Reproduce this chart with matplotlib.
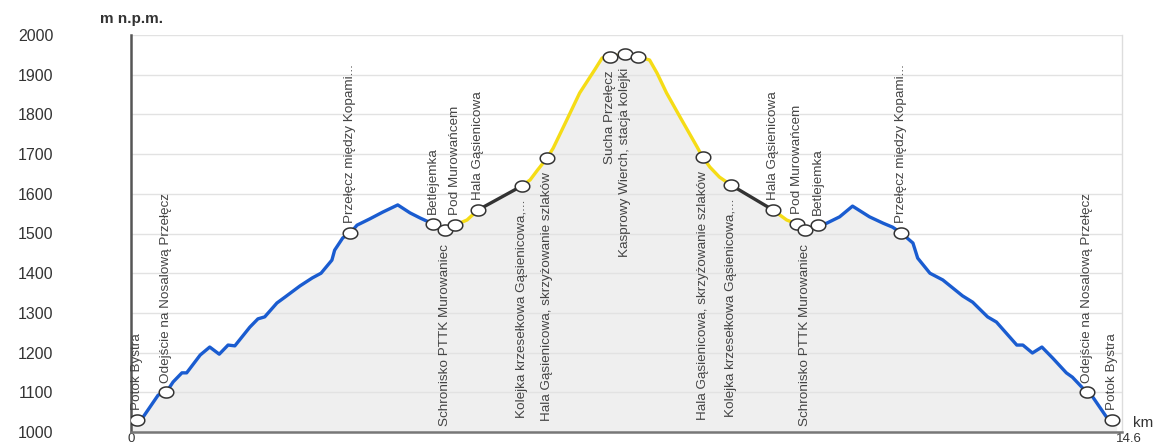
import numpy as np
import matplotlib
matplotlib.use("Agg")
import matplotlib.pyplot as plt
import matplotlib.transforms as mtransforms
from matplotlib.path import Path

# elevation profile, km along trail / m a.s.l.
profile_km = [0.0, 0.09, 0.18, 0.40, 0.52, 0.62, 0.75, 0.82, 1.02, 1.16,
              1.30, 1.43, 1.53, 1.75, 1.87, 1.97, 2.15, 2.27, 2.49, 2.67,
              2.80, 2.96, 3.00, 3.12, 3.23, 3.33, 3.52, 3.71, 3.93, 4.11,
              4.26, 4.45, 4.62, 4.77, 4.95, 5.11, 5.76, 5.88, 5.99, 6.13,
              6.22, 6.42, 6.61, 6.83, 6.94, 7.05, 7.28, 7.47, 7.64, 7.75,
              7.89, 8.09, 8.34, 8.42, 8.53, 8.67, 8.84, 9.46, 9.66, 9.81,
              9.93, 10.12, 10.25, 10.44, 10.63, 10.88, 11.08, 11.22, 11.35, 11.52,
              11.59, 11.77, 11.96, 12.25, 12.40, 12.62, 12.75, 13.05, 13.14, 13.28,
              13.42, 13.58, 13.78, 13.87, 14.08, 14.17, 14.37, 14.46, 14.52]
profile_elev = [1030, 1030, 1038, 1093, 1100, 1126, 1149, 1149, 1194, 1214,
                1196, 1219, 1217, 1264, 1285, 1290, 1325, 1340, 1368, 1388,
                1400, 1433, 1458, 1489, 1501, 1521, 1537, 1554, 1572, 1552,
                1539, 1524, 1509, 1521, 1534, 1559, 1620, 1635, 1660, 1690,
                1715, 1786, 1854, 1912, 1942, 1945, 1952, 1945, 1937, 1904,
                1854, 1793, 1718, 1693, 1667, 1642, 1622, 1559, 1534, 1524,
                1509, 1521, 1526, 1542, 1569, 1542, 1526, 1516, 1501, 1476,
                1438, 1400, 1383, 1343, 1327, 1290, 1277, 1219, 1219, 1199,
                1214, 1186, 1149, 1138, 1100, 1088, 1038, 1030, 1025]

# trail colour sections (start km, end km)
section_start = [0.0, 4.77, 5.11, 5.76, 8.84, 9.46, 9.81]
section_end = [4.77, 5.11, 5.76, 8.84, 9.46, 9.81, 14.6]
section_color = ["#1a5cd0", "#f5dc16", "#333333", "#f5dc16", "#333333", "#f5dc16", "#1a5cd0"]

waypoint_names = ["Potok Bystra", "Odejście na Nosalową Przełęcz", "Przełęcz między Kopami...",
                  "Betlejemka", "Schronisko PTTK Murowaniec", "Pod Murowańcem", "Hala Gąsienicowa",
                  "Kolejka krzesełkowa Gąsienicowa,...", "Hala Gąsienicowa, skrzyżowanie szlaków",
                  "Sucha Przełęcz", "Kasprowy Wierch, stacja kolejki", "",
                  "Hala Gąsienicowa, skrzyżowanie szlaków", "Kolejka krzesełkowa Gąsienicowa,...",
                  "Hala Gąsienicowa", "Pod Murowańcem", "Schronisko PTTK Murowaniec", "Betlejemka",
                  "Przełęcz między Kopami...", "Odejście na Nosalową Przełęcz", "Potok Bystra"]
waypoint_km = [0.09, 0.52, 3.23, 4.45, 4.62, 4.77, 5.11, 5.76, 6.13, 7.05, 7.28, 7.47,
               8.42, 8.84, 9.46, 9.81, 9.93, 10.12, 11.35, 14.08, 14.46]
waypoint_side = ["up", "up", "up", "up", "down", "up", "up", "down", "down", "down", "down", "",
                 "down", "down", "up", "up", "down", "up", "up", "up", "up"]

plt.rcParams["font.family"] = ["Liberation Sans", "DejaVu Sans"]

km = np.array(profile_km)
elev = np.array(profile_elev)

fig = plt.figure(figsize=(11.55, 4.47), dpi=100)
ax = fig.add_axes([131 / 1155, 1 - 432 / 447, 991 / 1155, 397 / 447])

ax.fill_between(km, elev, 1000, color="#efefef", lw=0, zorder=0.3)

for a, b, c in zip(section_start, section_end, section_color):
    m = (km >= a) & (km <= b)
    ax.plot(km[m], elev[m], color=c, lw=2.4, solid_capstyle="round", zorder=3)

# slightly flattened circle marker, like the original
t = np.linspace(0, 2 * np.pi, 61)
ellipse = Path(np.column_stack([np.cos(t), 0.76 * np.sin(t)]))
wp_elev = np.interp(waypoint_km, km, elev)
ax.plot(waypoint_km, wp_elev, ls="none", marker=ellipse, ms=10.5, mfc="white",
        mec="#333333", mew=1.1, zorder=4)

for name, x, y, side in zip(waypoint_names, waypoint_km, wp_elev, waypoint_side):
    if not name:
        continue
    if side == "up":
        ax.annotate(name, (x, y), xytext=(0, 7), textcoords="offset points",
                    rotation=90, ha="center", va="bottom", fontsize=9.7, color="#444444", zorder=5)
    else:
        ax.annotate(name, (x, y), xytext=(0, -10), textcoords="offset points",
                    rotation=90, ha="center", va="top", fontsize=9.7, color="#444444", zorder=5)

ax.set_xlim(0, 14.6)
ax.set_ylim(1000, 2000)
ax.set_yticks(np.arange(1000, 2001, 100))
ax.set_xticks([0, 14.6])
ax.set_xticklabels(["0", "14.6"])
ax.tick_params(axis="y", length=0, pad=56, labelsize=11.5, labelcolor="#333333")
ax.tick_params(axis="x", length=0, pad=0.5, labelsize=9.5, labelcolor="#333333")
for lab in ax.get_yticklabels():
    lab.set_horizontalalignment("right")
last = ax.get_xticklabels()[-1]
last.set_transform(last.get_transform() + mtransforms.ScaledTranslation(7 / 100, 0, fig.dpi_scale_trans))

ax.yaxis.grid(True, color="#e2e2e2", lw=1)
ax.set_axisbelow(True)

ax.spines["top"].set_visible(False)
ax.spines["right"].set_color("#dddddd")
ax.spines["right"].set_linewidth(1)
ax.spines["left"].set_color("#555555")
ax.spines["left"].set_linewidth(1.8)
ax.spines["bottom"].set_color("#777777")
ax.spines["bottom"].set_linewidth(1.8)

ax.set_ylabel("m n.p.m.", rotation=0, fontsize=11, fontweight="bold", color="#333333",
              ha="center", va="center")
ax.yaxis.set_label_coords(0.001, 1.04)
ax.set_xlabel("km", fontsize=11, color="#333333", ha="center", va="center")
ax.xaxis.set_label_coords(1.021, 0.022)

fig.savefig("out.png", dpi=100)
